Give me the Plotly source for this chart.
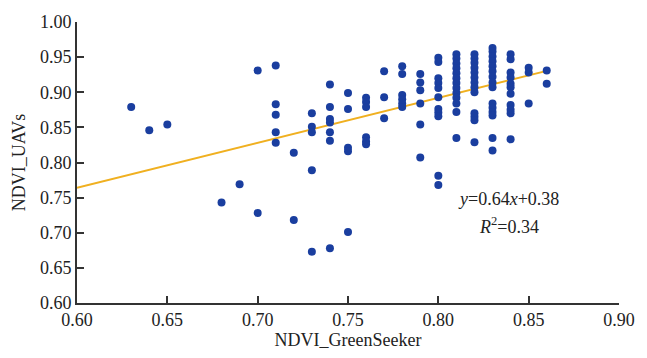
import plotly.graph_objects as go

# NDVI_GreenSeeker values (x) and corresponding NDVI_UAVs readings (y)
x_groups = [0.63, 0.64, 0.65, 0.68, 0.69, 0.70, 0.71, 0.72, 0.73, 0.74, 0.75, 0.76,
            0.77, 0.78, 0.79, 0.80, 0.81, 0.82, 0.83, 0.84, 0.85, 0.86]
y_groups = [
    [0.879],
    [0.846],
    [0.854],
    [0.743],
    [0.769],
    [0.931, 0.728],
    [0.938, 0.883, 0.868, 0.843, 0.828],
    [0.814, 0.718],
    [0.870, 0.851, 0.843, 0.789, 0.673],
    [0.911, 0.879, 0.862, 0.857, 0.843, 0.831, 0.678],
    [0.899, 0.876, 0.821, 0.816, 0.701],
    [0.892, 0.886, 0.879, 0.836, 0.830, 0.826],
    [0.930, 0.893, 0.863],
    [0.937, 0.926, 0.896, 0.890, 0.884, 0.879],
    [0.926, 0.914, 0.903, 0.884, 0.854, 0.807],
    [0.949, 0.943, 0.920, 0.913, 0.906, 0.893, 0.876, 0.871, 0.866, 0.781, 0.768],
    [0.954, 0.948, 0.941, 0.934, 0.927, 0.920, 0.913, 0.906, 0.899, 0.892, 0.884, 0.872, 0.835],
    [0.954, 0.948, 0.942, 0.935, 0.928, 0.921, 0.914, 0.907, 0.900, 0.870, 0.865, 0.860, 0.829],
    [0.963, 0.958, 0.951, 0.944, 0.937, 0.930, 0.922, 0.914, 0.907, 0.884, 0.878, 0.872, 0.867, 0.835, 0.817],
    [0.954, 0.947, 0.928, 0.921, 0.912, 0.907, 0.898, 0.882, 0.875, 0.870, 0.833],
    [0.935, 0.928, 0.884],
    [0.931, 0.912],
]
slope = 0.64
intercept = 0.38
fit_x = [0.60, 0.86]
tick_vals_x = [0.60, 0.65, 0.70, 0.75, 0.80, 0.85, 0.90]
tick_vals_y = [0.60, 0.65, 0.70, 0.75, 0.80, 0.85, 0.90, 0.95, 1.00]

xs, ys = [], []
for xv, yl in zip(x_groups, y_groups):
    for yv in yl:
        xs.append(xv)
        ys.append(yv)

fit_y = [slope * v + intercept for v in fit_x]

FONT = "Liberation Serif, Times New Roman, serif"
TXT = "#222222"

fig = go.Figure()
fig.add_trace(go.Scatter(x=fit_x, y=fit_y, mode="lines",
                         line=dict(color="#f0b020", width=2), showlegend=False))
fig.add_trace(go.Scatter(x=xs, y=ys, mode="markers",
                         marker=dict(color="#1a3e9f", size=8, line=dict(width=0)),
                         showlegend=False))

fig.add_annotation(x=0.839, y=0.7475, xref="x", yref="y", showarrow=False,
                   text="<i>y</i>=0.64<i>x</i>+0.38",
                   font=dict(family=FONT, size=18, color=TXT))
fig.add_annotation(x=0.839, y=0.710, xref="x", yref="y", showarrow=False,
                   text="<i>R</i><sup>2</sup>=0.34",
                   font=dict(family=FONT, size=18, color=TXT))

axis_common = dict(showgrid=False, zeroline=False, showline=True, linecolor="#333333",
                   linewidth=1.6, ticks="inside", ticklen=7, tickwidth=1.5,
                   tickcolor="#333333", tickfont=dict(family=FONT, size=18, color=TXT),
                   mirror=False)

fig.update_layout(
    width=647, height=358,
    margin=dict(l=77, r=18, t=19, b=55),
    paper_bgcolor="white", plot_bgcolor="white",
    font=dict(family=FONT, color=TXT),
    xaxis=dict(range=[0.60, 0.90], tickvals=tick_vals_x, tickformat=".2f",
               title=dict(text="NDVI_GreenSeeker", font=dict(family=FONT, size=18, color=TXT),
                          standoff=2),
               **axis_common),
    yaxis=dict(range=[0.60, 1.00], tickvals=tick_vals_y, tickformat=".2f",
               title=dict(text="NDVI_UAVs", font=dict(family=FONT, size=18, color=TXT),
                          standoff=10),
               **axis_common),
)

fig.write_html("out.html", config={"displayModeBar": False},
               post_script="document.body.style.margin='0';")
